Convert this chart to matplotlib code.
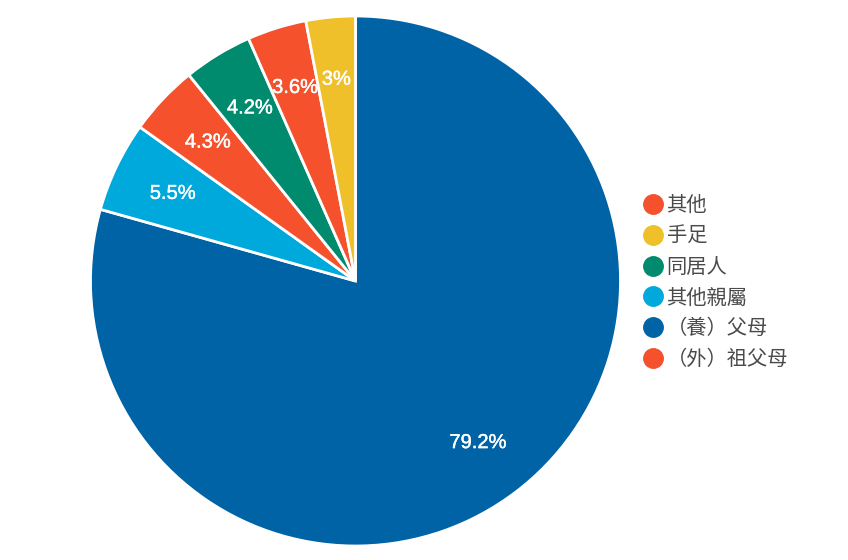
import numpy as np
import matplotlib
matplotlib.use("Agg")
import matplotlib.pyplot as plt
import matplotlib.patheffects as pe
from matplotlib.lines import Line2D

plt.rcParams['font.family'] = ['Noto Sans CJK TC', 'DejaVu Sans']

# pie slices, clockwise from 12 o'clock
slice_names = ["（養）父母", "其他親屬", "（外）祖父母", "同居人", "其他", "手足"]
slice_values = [79.2, 5.5, 4.3, 4.2, 3.6, 3]
slice_labels = ["79.2%", "5.5%", "4.3%", "4.2%", "3.6%", "3%"]

legend_order = ["其他", "手足", "同居人", "其他親屬", "（養）父母", "（外）祖父母"]

BLUE = "#0063a6"
CYAN = "#00a9dc"
RED = "#f4512c"
GREEN = "#008a6e"
YELLOW = "#efc02a"
colors = {"（養）父母": BLUE, "其他親屬": CYAN, "（外）祖父母": RED,
          "同居人": GREEN, "其他": RED, "手足": YELLOW}

W, H = 848, 560
fig = plt.figure(figsize=(W / 100, H / 100), dpi=100)
cx, cy, r = 355.5, 281, 265
ax = fig.add_axes([(cx - r) / W, (H - cy - r) / H, 2 * r / W, 2 * r / H])

wedges, _ = ax.pie(slice_values, colors=[colors[n] for n in slice_names],
                   startangle=90, counterclock=False, radius=1,
                   wedgeprops=dict(edgecolor="white", linewidth=2))
ax.set_xlim(-1.0, 1.0)
ax.set_ylim(-1.0, 1.0)
ax.set_aspect("equal")
ax.axis("off")

for w, lab in zip(wedges, slice_labels):
    ang = np.deg2rad((w.theta1 + w.theta2) / 2)
    ax.text(0.765 * np.cos(ang), 0.765 * np.sin(ang), lab,
            ha="center", va="center", color="white", fontsize=14.5,
            family=["Liberation Sans", "DejaVu Sans"],
            path_effects=[pe.withStroke(linewidth=0.3, foreground="white")])

handles = [Line2D([], [], marker="o", linestyle="none", markersize=14,
                  markerfacecolor=colors[n], markeredgecolor=colors[n])
           for n in legend_order]
leg = fig.legend(handles, legend_order, loc="upper left",
                 bbox_to_anchor=(630 / W, 1 - 185 / H), frameon=False,
                 fontsize=14.6, labelspacing=0.48, handletextpad=0.0,
                 handlelength=1.3, borderpad=0)
for t in leg.get_texts():
    t.set_color("#4a4a4a")

fig.savefig("out.png", dpi=100)
